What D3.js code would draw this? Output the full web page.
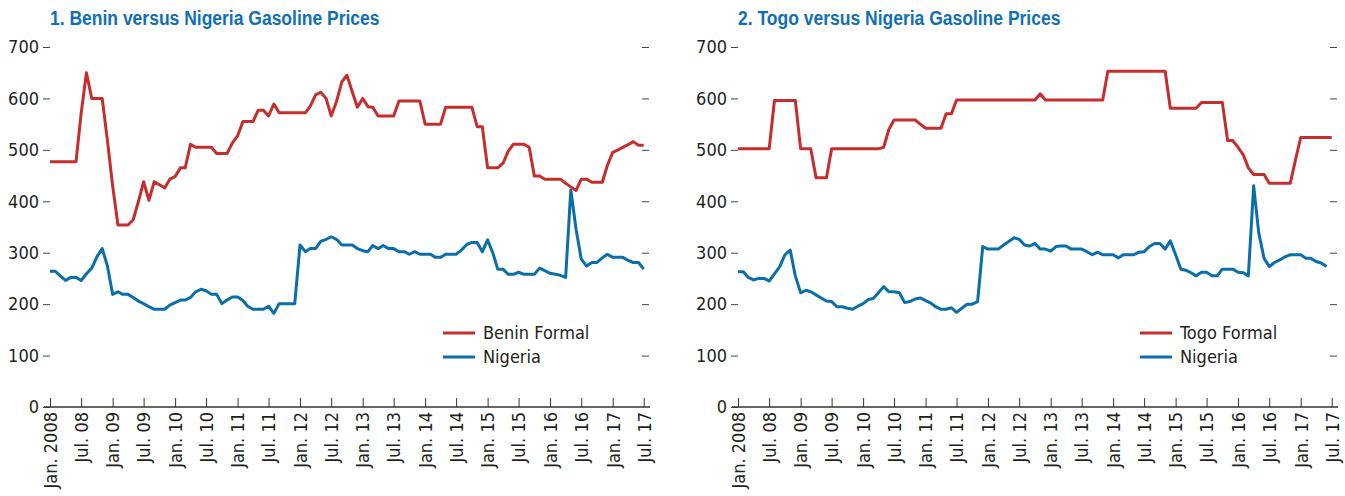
<!DOCTYPE html>
<html>
<head>
<meta charset="utf-8">
<script src="https://cdn.jsdelivr.net/npm/d3@7"></script>
<style>
  body { margin: 0; background: #fff; }
  svg text { font-family: "DejaVu Sans Condensed", "Liberation Sans", sans-serif; fill: #231f20; }
  svg text.title { font-family: "Liberation Sans", Arial, sans-serif; }
</style>
</head>
<body>
<div id="chart"></div>
<script>
// half-year tick labels, Jan. 2008 .. Jul. 2017
const tickLabels = ["Jan. 2008", "Jul. 08", "Jan. 09", "Jul. 09", "Jan. 10", "Jul. 10", "Jan. 11", "Jul. 11",
  "Jan. 12", "Jul. 12", "Jan. 13", "Jul. 13", "Jan. 14", "Jul. 14", "Jan. 15", "Jul. 15",
  "Jan. 16", "Jul. 16", "Jan. 17", "Jul. 17"];
const yTicks = [0, 100, 200, 300, 400, 500, 600, 700];

// monthly prices from Jan. 2008
const beninFormal = [477, 477, 477, 477, 477, 477, 571, 650, 600, 600, 600, 520, 430, 354, 354, 354, 364, 400, 438, 402,
  438, 432, 426, 443, 448, 465, 465, 511, 505, 505, 505, 505, 493, 493, 493, 513, 527, 555, 555, 555,
  577, 577, 566, 589, 572, 572, 572, 572, 572, 572, 585, 607, 612, 600, 566, 594, 632, 645, 613, 583,
  600, 584, 583, 566, 566, 566, 566, 595, 595, 595, 595, 595, 550, 550, 550, 550, 583, 583, 583, 583,
  583, 583, 545, 545, 465, 465, 465, 474, 497, 511, 511, 511, 505, 449, 449, 443, 443, 443, 443, 435,
  428, 421, 443, 443, 437, 437, 437, 470, 495, 500, 505, 510, 516, 509, 509];
const beninNigeria = [264, 264, 255, 246, 252, 252, 246, 259, 270, 292, 308, 275, 219, 224, 219, 219, 213, 206, 201, 195,
  190, 190, 190, 198, 203, 208, 208, 213, 224, 229, 226, 219, 219, 201, 208, 214, 214, 207, 196, 190,
  190, 190, 196, 182, 201, 201, 201, 201, 315, 302, 308, 308, 322, 326, 331, 326, 315, 315, 315, 308,
  304, 302, 314, 308, 314, 308, 308, 302, 302, 297, 302, 297, 297, 297, 291, 291, 297, 297, 297, 305,
  316, 320, 320, 302, 325, 299, 268, 268, 258, 258, 262, 258, 258, 258, 270, 265, 260, 258, 256, 252,
  422, 345, 288, 274, 281, 281, 290, 297, 291, 291, 291, 285, 281, 281, 268];
const togoFormal = [502, 502, 502, 502, 502, 502, 502, 596, 596, 596, 596, 596, 502, 502, 502, 446, 446, 446, 502, 502,
  502, 502, 502, 502, 502, 502, 502, 502, 505, 540, 558, 558, 558, 558, 558, 550, 542, 542, 542, 542,
  570, 570, 597, 597, 597, 597, 597, 597, 597, 597, 597, 597, 597, 597, 597, 597, 597, 597, 609, 597,
  597, 597, 597, 597, 597, 597, 597, 597, 597, 597, 597, 653, 653, 653, 653, 653, 653, 653, 653, 653,
  653, 653, 653, 581, 581, 581, 581, 581, 581, 592, 592, 592, 592, 592, 518, 518, 505, 490, 465, 452,
  452, 452, 435, 435, 435, 435, 435, 480, 524, 524, 524, 524, 524, 524, 524];
const togoNigeria = [263, 263, 252, 247, 250, 250, 245, 259, 273, 296, 305, 255, 222, 227, 224, 218, 212, 206, 205, 195,
  195, 192, 190, 196, 201, 209, 211, 222, 234, 224, 224, 222, 203, 205, 210, 212, 207, 202, 195, 190,
  190, 193, 184, 192, 200, 200, 205, 312, 307, 307, 307, 315, 322, 329, 326, 315, 313, 318, 307, 307,
  303, 312, 313, 313, 307, 307, 307, 302, 296, 301, 296, 296, 296, 290, 296, 296, 296, 301, 302, 312,
  318, 318, 307, 323, 296, 268, 266, 261, 255, 262, 262, 255, 255, 268, 268, 268, 262, 261, 255, 430,
  338, 289, 273, 281, 286, 292, 296, 296, 296, 289, 289, 283, 280, 273];

const red = "#c62d2d", blue = "#0a6eaa";
const width = 1345, height = 496;
const start = new Date(2008, 0, 1);
const month = i => d3.timeMonth.offset(start, i);

const svg = d3.select("#chart").append("svg")
  .attr("width", width)
  .attr("height", height);

function drawPanel(left, legendX, title, formalName, formal, nigeria) {
  const x = d3.scaleTime()
    .domain([start, month(115)])
    .range([left, left + 599]);
  const y = d3.scaleLinear()
    .domain([0, 700])
    .range([407, 47]);

  const g = svg.append("g");

  // condensed bold title (squeezed horizontally)
  g.append("text")
    .attr("class", "title")
    .attr("transform", "translate(" + left + ",25) scale(0.875,1)")
    .attr("font-size", 20)
    .attr("font-weight", "bold")
    .style("fill", "#1170b5")
    .text(title);

  // left axis with labels
  const yAxis = g.append("g")
    .attr("transform", "translate(" + left + ",0)")
    .call(d3.axisLeft(y).tickValues(yTicks).tickSize(7).tickPadding(4));
  yAxis.select(".domain").remove();
  yAxis.selectAll("line").attr("stroke", "#444");
  yAxis.selectAll("text").attr("font-size", 18);

  // right axis, ticks only
  const yAxisR = g.append("g")
    .attr("transform", "translate(" + (left + 592) + ",0)")
    .call(d3.axisRight(y).tickValues(yTicks.slice(1)).tickSize(7).tickFormat(""));
  yAxisR.select(".domain").remove();
  yAxisR.selectAll("line").attr("stroke", "#444");

  // x axis
  const xAxis = g.append("g")
    .attr("transform", "translate(0,407)")
    .call(d3.axisBottom(x)
      .tickValues(tickLabels.map((d, i) => month(i * 6)))
      .tickSize(-9)
      .tickFormat((d, i) => tickLabels[i]));
  xAxis.select(".domain").remove();
  xAxis.selectAll("line").attr("stroke", "#333");
  xAxis.selectAll("text")
    .attr("font-size", 18)
    .attr("transform", "rotate(-90)")
    .attr("text-anchor", "end")
    .attr("x", -5)
    .attr("y", 0)
    .attr("dy", "0.35em");
  g.append("line")
    .attr("x1", left - 6)
    .attr("x2", left + 600)
    .attr("y1", 407)
    .attr("y2", 407)
    .attr("stroke", "#333")
    .attr("stroke-width", 1.3);

  const line = d3.line()
    .x((d, i) => x(month(i)))
    .y(d => y(d));

  g.append("path")
    .datum(formal)
    .attr("fill", "none")
    .attr("stroke", red)
    .attr("stroke-width", 3)
    .attr("stroke-linejoin", "round")
    .attr("d", line);

  g.append("path")
    .datum(nigeria)
    .attr("fill", "none")
    .attr("stroke", blue)
    .attr("stroke-width", 3)
    .attr("stroke-linejoin", "round")
    .attr("d", line);

  // legend
  const legend = [[formalName, red], ["Nigeria", blue]];
  legend.forEach((d, i) => {
    const ly = 333 + i * 24;
    g.append("line")
      .attr("x1", legendX)
      .attr("x2", legendX + 32)
      .attr("y1", ly)
      .attr("y2", ly)
      .attr("stroke", d[1])
      .attr("stroke-width", 3);
    g.append("text")
      .attr("x", legendX + 40)
      .attr("y", ly)
      .attr("dy", "0.35em")
      .attr("font-size", 18)
      .text(d[0]);
  });
}

drawPanel(50, 443, "1. Benin versus Nigeria Gasoline Prices", "Benin Formal", beninFormal, beninNigeria);
drawPanel(738, 1140, "2. Togo versus Nigeria Gasoline Prices", "Togo Formal", togoFormal, togoNigeria);
</script>
</body>
</html>
